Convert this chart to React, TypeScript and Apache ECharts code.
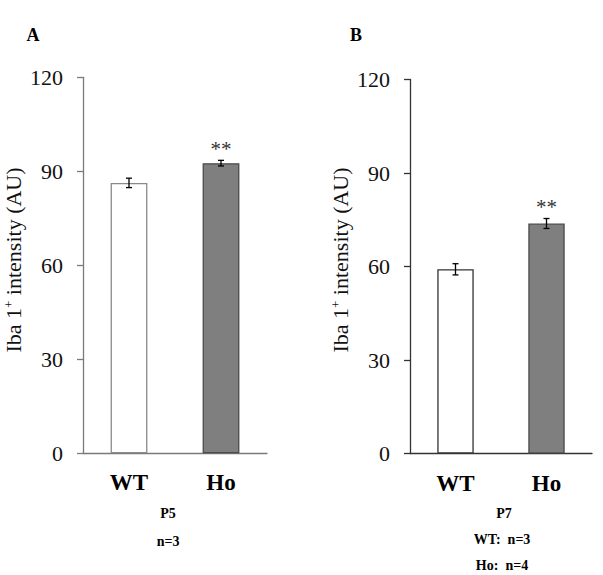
import React, { useEffect, useRef } from "react";
import * as echarts from "echarts";

const categories = ["WT", "Ho"];
const yTicks = [0, 30, 60, 90, 120];
const p5Means = [86.3, 92.6];
const p5Errors = [1.5, 0.9];
const p5Sig = ["", "**"];
const p7Means = [59.1, 73.8];
const p7Errors = [1.8, 1.6];
const p7Sig = ["", "**"];
const panelLetters = ["A", "B"];
const p5Notes = ["P5", "n=3"];
const p7Notes = ["P7", "WT:  n=3", "Ho:  n=4"];
const yName = "{n|Iba 1}{sup|+}{n| intensity (AU)}";

const SERIF = "Liberation Serif";

export default function App() {
  const ref = useRef<HTMLDivElement>(null);
  useEffect(() => {
    if (!ref.current) return;
    const chart = echarts.init(ref.current, undefined, { renderer: "svg" });

    const makeY = (gridIndex: number, axisColor: string) => ({
      type: "value",
      gridIndex,
      min: yTicks[0],
      max: yTicks[yTicks.length - 1],
      interval: 30,
      axisLine: { show: true, lineStyle: { color: axisColor, width: 1.3 } },
      axisTick: { show: true, length: 6, lineStyle: { color: axisColor, width: 1.3 } },
      splitLine: { show: false },
      axisLabel: { fontFamily: SERIF, fontSize: 22, color: "#111", margin: 20 },
    });

    const makeX = (gridIndex: number, axisColor: string) => ({
      type: "category",
      gridIndex,
      data: categories,
      axisLine: { show: true, lineStyle: { color: axisColor, width: 1.3 } },
      axisTick: { show: false },
      axisLabel: {
        fontFamily: SERIF,
        fontSize: 23,
        fontWeight: "bold",
        color: "#000",
        margin: 18,
      },
    });

    const barSeries = (idx: number, means: number[], wtBorder: string) => ({
      type: "bar",
      xAxisIndex: idx,
      yAxisIndex: idx,
      barWidth: "40%",
      data: means.map((v, i) => ({
        value: v,
        itemStyle:
          i === 0
            ? { color: "#ffffff", borderColor: wtBorder, borderWidth: 1.3 }
            : { color: "#7f7f7f", borderColor: "#4a4a4a", borderWidth: 1.3 },
      })),
    });

    const errSeries = (idx: number, means: number[], errs: number[], sig: string[]) => ({
      type: "custom",
      xAxisIndex: idx,
      yAxisIndex: idx,
      z: 10,
      data: means.map((v, i) => [i, v, errs[i]]),
      renderItem: (params: any, api: any) => {
        const x = api.value(0);
        const v = api.value(1);
        const e = api.value(2);
        const top = api.coord([x, v + e]);
        const bot = api.coord([x, v - e]);
        const hw = 3;
        const st = { stroke: "#000", lineWidth: 1.3 };
        const children: any[] = [
          { type: "line", shape: { x1: top[0], y1: top[1], x2: bot[0], y2: bot[1] }, style: st },
          { type: "line", shape: { x1: top[0] - hw, y1: top[1], x2: top[0] + hw, y2: top[1] }, style: st },
          { type: "line", shape: { x1: bot[0] - hw, y1: bot[1], x2: bot[0] + hw, y2: bot[1] }, style: st },
        ];
        const s = sig[params.dataIndex];
        if (s) {
          children.push({
            type: "text",
            x: top[0],
            y: top[1] - 1,
            style: {
              text: s,
              fontFamily: SERIF,
              fontSize: 21,
              fill: "#333",
              align: "center",
              verticalAlign: "bottom",
            },
          });
        }
        return { type: "group", children };
      },
    });

    const txt = (text: string, x: number, y: number, size: number) => ({
      type: "text",
      x,
      y,
      style: {
        text,
        fontFamily: SERIF,
        fontSize: size,
        fontWeight: "bold",
        fill: "#000",
        align: "center",
        verticalAlign: "middle",
      },
    });

    const yTitle = (x: number, y: number) => ({
      type: "text",
      x,
      y,
      rotation: Math.PI / 2,
      style: {
        text: yName,
        fontFamily: SERIF,
        fontSize: 22,
        fill: "#111",
        align: "center",
        verticalAlign: "middle",
        rich: {
          n: { fontFamily: SERIF, fontSize: 22, fill: "#111", color: "#111" },
          sup: { fontFamily: SERIF, fontSize: 13, fill: "#111", color: "#111", verticalAlign: "top" },
        },
      },
    });

    const graphics: any[] = [
      txt(panelLetters[0], 33, 35, 18),
      txt(panelLetters[1], 356, 35, 18),
      txt(p5Notes[0], 168, 513, 14),
      txt(p5Notes[1], 168, 541, 14),
      txt(p7Notes[0], 504, 513, 14),
      txt(p7Notes[1], 502, 539, 14),
      txt(p7Notes[2], 502, 565, 14),
      yTitle(13, 260),
      yTitle(340, 260),
    ];

    chart.setOption({
      animation: false,
      grid: [
        { left: 83, top: 77.3, width: 184, height: 376, containLabel: false },
        { left: 410, top: 79.5, width: 182, height: 374, containLabel: false },
      ],
      xAxis: [makeX(0, "#7a7a7a"), makeX(1, "#333333")],
      yAxis: [makeY(0, "#7a7a7a"), makeY(1, "#333333")],
      series: [
        barSeries(0, p5Means, "#8a8a8a"),
        errSeries(0, p5Means, p5Errors, p5Sig),
        barSeries(1, p7Means, "#333333"),
        errSeries(1, p7Means, p7Errors, p7Sig),
      ],
      graphic: graphics,
    });

    return () => chart.dispose();
  }, []);

  return (
    <div
      ref={ref}
      style={{ position: "fixed", left: 0, top: 0, width: 603, height: 575, background: "#fff" }}
    />
  );
}
